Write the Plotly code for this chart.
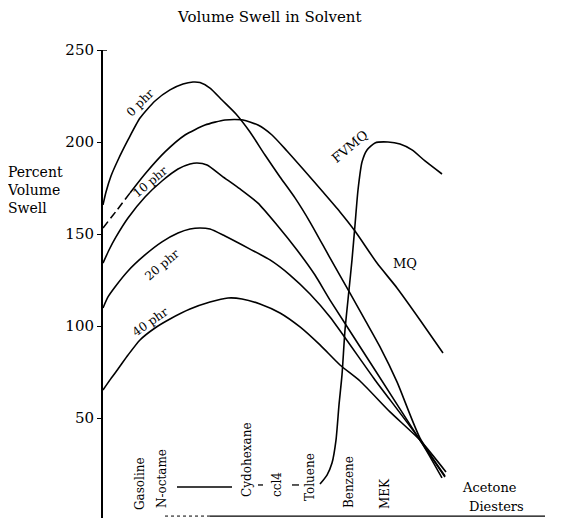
import plotly.graph_objects as go

# ---- data (x = position along the solvent scale, y = percent volume swell) ----
phr0_x = [0, 3, 8, 15, 25, 37, 52, 67, 80, 90, 97, 107, 119, 133, 147, 162, 177, 192, 207, 227, 247, 262, 277, 294, 317, 342]
phr0_y = [165.8, 172.8, 181.5, 190.2, 201.1, 213.0, 222.3, 228.3, 231.5, 232.6, 232.3, 229.3, 222.8, 215.2, 205.4,
          192.9, 181.0, 169.6, 156.5, 137.0, 117.9, 103.3, 88.6, 69.6, 39.1, 18.5]

mq_dash_x = [0, 14, 27]
mq_dash_y = [153.3, 163.0, 172.3]
mq_x = [27, 42, 62, 82, 102, 122, 140, 155, 169, 184, 200, 220, 237, 252, 274, 294, 317, 340]
mq_y = [172.3, 182.6, 194.6, 203.8, 209.2, 212.0, 212.0, 209.2, 203.8, 195.1, 185.3, 172.8, 162.0, 151.6,
        134.2, 120.7, 103.3, 85.3]

phr10_x = [0, 6, 13, 25, 42, 59, 75, 87, 94, 104, 119, 137, 155, 174, 194, 212, 227, 272, 317, 342]
phr10_y = [134.2, 141.3, 148.4, 158.7, 170.1, 178.8, 185.3, 188.0, 188.6, 187.5, 181.5, 174.5, 166.8, 154.9,
           141.3, 127.7, 114.1, 76.1, 38.0, 17.9]

phr20_x = [0, 5, 12, 25, 42, 59, 75, 87, 97, 107, 122, 147, 167, 187, 207, 227, 272, 317, 339]
phr20_y = [109.8, 115.8, 121.2, 129.9, 138.6, 145.7, 150.5, 152.7, 153.3, 152.7, 148.9, 141.8, 135.9, 127.7,
           117.4, 104.9, 70.7, 38.0, 17.4]

phr40_x = [0, 7, 15, 25, 37, 52, 67, 87, 107, 125, 139, 157, 177, 197, 217, 237, 257, 287, 317, 343]
phr40_y = [65.2, 70.7, 76.6, 84.2, 92.4, 98.9, 103.8, 109.2, 113.0, 115.2, 114.7, 112.0, 107.1, 99.5, 89.7,
           78.8, 70.1, 53.3, 38.0, 20.7]

fvmq_x = [217, 224, 229, 233, 236, 239, 242, 246, 249, 252, 255, 259, 264, 272, 285, 297, 309, 322, 339]
fvmq_y = [14.1, 19.0, 25.5, 38.0, 57.1, 73.4, 97.8, 119.6, 135.9, 154.9, 173.9, 189.1, 195.7, 199.5, 200.0,
          198.9, 195.7, 189.7, 182.6]

solvents = ["Gasoline", "N-octame", "Cydohexane", "ccl4", "Toluene", "Benzene", "MEK"]
solvent_x = [37, 59, 144, 174, 207, 246, 282]
solvent_y = [14.1, 16.8, 27.2, 13.6, 17.9, 15.2, 8.7]

curve_labels = ["0 phr", "10 phr", "20 phr", "40 phr", "FVMQ", "MQ"]
curve_label_x = [37, 47, 59, 47, 247, 302]
curve_label_y = [221.2, 178.3, 133.1, 102.2, 197.3, 134.2]
curve_label_angle = [-45, -40, -40, -35, -40, 0]

yticks = [50, 100, 150, 200, 250]

FONT = "DejaVu Serif"
fig = go.Figure()

def add_line(x, y, dash="solid"):
    fig.add_trace(go.Scatter(x=x, y=y, mode="lines",
                             line=dict(color="black", width=1.6, shape="spline", smoothing=0.6, dash=dash),
                             showlegend=False, hoverinfo="skip"))

add_line(phr0_x, phr0_y)
add_line(mq_dash_x, mq_dash_y, dash="8px,4px")
add_line(mq_x, mq_y)
add_line(phr10_x, phr10_y)
add_line(phr20_x, phr20_y)
add_line(phr40_x, phr40_y)
add_line(fvmq_x, fvmq_y)

ann = []
for t, x, y in zip(solvents, solvent_x, solvent_y):
    ann.append(dict(text=t, x=x, y=y, xref="x", yref="y", showarrow=False, textangle=-90,
                    font=dict(family=FONT, size=12, color="black")))
ann.append(dict(text="Acetone", x=357, y=12.5, xref="x", yref="y", showarrow=False, xanchor="left",
                font=dict(family=FONT, size=13, color="black")))
ann.append(dict(text="Diesters", x=364, y=1.8, xref="x", yref="y", showarrow=False, xanchor="left",
                font=dict(family=FONT, size=13, color="black")))
for t, x, y, a in zip(curve_labels, curve_label_x, curve_label_y, curve_label_angle):
    ann.append(dict(text=t, x=x, y=y, xref="x", yref="y", showarrow=False, textangle=a,
                    font=dict(family=FONT, size=12 if "phr" in t else 13, color="black")))
ann.append(dict(text="Percent<br>Volume<br>Swell", x=-0.2217, y=173.9, xref="paper", yref="y",
                showarrow=False, xanchor="left", yanchor="middle", align="left",
                font=dict(family=FONT, size=14, color="black")))
ann.append(dict(text="Volume Swell in Solvent", x=0.3756, y=1.0705, xref="paper", yref="paper",
                showarrow=False, xanchor="center", yanchor="middle",
                font=dict(family=FONT, size=15, color="black")))

shapes = [
    dict(type="line", x0=74, x1=129, y0=12.5, y1=12.5, xref="x", yref="y", line=dict(color="black", width=1.3)),
    dict(type="line", x0=155, x1=160, y0=13.6, y1=13.6, xref="x", yref="y", line=dict(color="black", width=1.3)),
    dict(type="line", x0=189, x1=196, y0=13.6, y1=13.6, xref="x", yref="y", line=dict(color="black", width=1.3)),
    dict(type="line", x0=62, x1=107, y0=-3.3, y1=-3.3, xref="x", yref="y", line=dict(color="black", width=1, dash="dot")),
    dict(type="line", x0=107, x1=442, y0=-3.3, y1=-3.3, xref="x", yref="y", line=dict(color="black", width=1.2)),
    dict(type="line", x0=0, x1=4, y0=250, y1=250, xref="x", yref="y", line=dict(color="black", width=1.5)),
]

# page body has an 8px margin, so the figure is sized/offset to land on the reference's pixels
fig.update_layout(
    width=553, height=510,
    margin=dict(l=95, r=16, t=42, b=0),
    paper_bgcolor="white", plot_bgcolor="white",
    annotations=ann, shapes=shapes,
    xaxis=dict(range=[0, 442], visible=False, fixedrange=True),
    yaxis=dict(range=[-4.35, 250], tickvals=yticks, ticks="outside", ticklen=4, tickwidth=1.2,
               tickcolor="black", showline=True, linecolor="black", linewidth=2, showgrid=False,
               zeroline=False, tickfont=dict(family=FONT, size=15, color="black")),
)

fig.write_html("out.html")
